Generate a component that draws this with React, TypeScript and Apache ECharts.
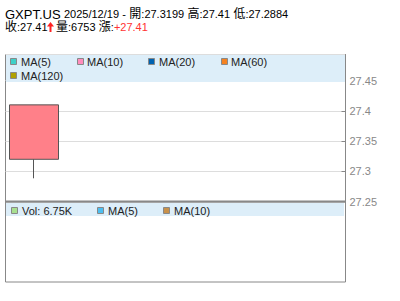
import React, { useEffect, useRef } from "react";
import * as echarts from "echarts";

const symbol = "GXPT.US";
const dateLabel = "2025/12/19";
const categories = ["2025/12/19", "", "", "", "", ""];
const openValues = [27.3199];
const closeValues = [27.41];
const lowValues = [27.2884];
const highValues = [27.41];
const volumeValues = [6753];
const changeValue = 27.41;
const priceMin = 27.25;
const priceMax = 27.4934;
const priceInterval = 0.05;
const maNames = ["MA(5)", "MA(10)", "MA(20)", "MA(60)", "MA(120)"];
const maColors = ["#3fd0c8", "#ff8cbc", "#0062b0", "#f58220", "#b0a000"];
const volNames = ["MA(5)", "MA(10)"];
const volColors = ["#4cbef0", "#c8914a"];
const volColor = "#a8e090";

const FONT = "Arial, 'Liberation Sans', 'Noto Sans CJK TC', sans-serif";

export default function App() {
  const ref = useRef<HTMLDivElement>(null);
  useEffect(() => {
    if (!ref.current) return;
    const chart = echarts.init(ref.current, undefined, { renderer: "svg" });
    const candleData = openValues.map((o, i) => [o, closeValues[i], lowValues[i], highValues[i]]);
    const vol = volumeValues[0];
    const volText = (vol / 1000).toFixed(2) + "K";

    const maPos = [
      [10, 58, 21],
      [77, 58, 87],
      [148, 58, 159],
      [221, 58, 231],
      [10, 72, 21],
    ];
    const legendEls: any[] = [];
    maNames.forEach((n, i) => {
      const [sx, sy, tx] = maPos[i];
      legendEls.push({
        type: "rect",
        shape: { x: sx + 0.5, y: sy + 0.5, width: 6, height: 6 },
        style: { fill: maColors[i], stroke: "#888", lineWidth: 1 },
        z: 101,
      });
      legendEls.push({
        type: "text",
        x: tx,
        y: sy + 4,
        style: { text: n, fill: "#222", font: `11px ${FONT}`, verticalAlign: "middle" },
        z: 101,
      });
    });
    const volPos = [
      [11, 207, 22],
      [97, 207, 108],
      [163, 207, 174],
    ];
    const volLabels = ["Vol: " + volText, ...volNames];
    const volSq = [volColor, ...volColors];
    volLabels.forEach((n, i) => {
      const [sx, sy, tx] = volPos[i];
      legendEls.push({
        type: "rect",
        shape: { x: sx + 0.5, y: sy + 0.5, width: 6, height: 6 },
        style: { fill: volSq[i], stroke: "#888", lineWidth: 1 },
        z: 101,
      });
      legendEls.push({
        type: "text",
        x: tx,
        y: sy + 4,
        style: { text: n, fill: "#222", font: `11px ${FONT}`, verticalAlign: "middle" },
        z: 101,
      });
    });

    const o = openValues[0], c = closeValues[0], l = lowValues[0], h = highValues[0];

    const richBase = {
      a: { fontSize: 13, fontFamily: FONT, fill: "#000" },
      b: { fontSize: 11, fontFamily: FONT, fill: "#000" },
      k: { fontSize: 12, fontFamily: FONT, fill: "#000" },
      r: { fontSize: 11, fontFamily: FONT, fill: "#f33" },
    };

    chart.setOption({
      animation: false,
      grid: [
        { left: 5.5, top: 54.5, width: 340, height: 147, show: true, borderColor: "#888", borderWidth: 1, backgroundColor: "transparent" },
        { left: 5.5, top: 202, width: 340, height: 80, show: true, borderColor: "#888", borderWidth: 1, backgroundColor: "transparent" },
      ],
      xAxis: [
        { type: "category", data: categories, gridIndex: 0, show: false, boundaryGap: true },
        { type: "category", data: categories, gridIndex: 1, show: false, boundaryGap: true },
      ],
      yAxis: [
        {
          type: "value",
          gridIndex: 0,
          position: "right",
          min: priceMin,
          max: priceMax,
          interval: priceInterval,
          axisLine: { show: true, lineStyle: { color: "#888" } },
          axisTick: { show: true, inside: true, length: 4, lineStyle: { color: "#888" } },
          axisLabel: {
            show: true,
            color: "#888",
            fontSize: 11,
            fontFamily: FONT,
            margin: 4,
            showMaxLabel: false,
            formatter: (v: number) => String(parseFloat(v.toFixed(2))),
          },
          splitLine: { show: true, lineStyle: { color: "#dddddd" } },
        },
        { type: "value", gridIndex: 1, show: false, min: 0, max: vol * 10 },
      ],
      series: [
        {
          type: "candlestick",
          xAxisIndex: 0,
          yAxisIndex: 0,
          data: candleData,
          barWidth: 50,
          itemStyle: {
            color: "#ff8089",
            color0: "#66cc66",
            borderColor: "#555",
            borderColor0: "#555",
            borderWidth: 1,
          },
        },
      ],
      graphic: [
        {
          type: "rect",
          shape: { x: 6, y: 55, width: 339, height: 27 },
          style: { fill: "#ddeef9" },
          z: 100,
        },
        {
          type: "rect",
          shape: { x: 6, y: 203, width: 338, height: 13 },
          style: { fill: "#ddeef9" },
          z: 100,
        },
        {
          type: "rect",
          shape: { x: 5, y: 200.5, width: 341, height: 2 },
          style: { fill: "#888" },
          z: 102,
        },
        {
          type: "text",
          x: 5,
          y: 14,
          style: {
            text: `{a|${symbol}} {b|${dateLabel}} {b|-} {k|開}{b|:${o}} {k|高}{b|:${h}} {k|低}{b|:${l}}`,
            verticalAlign: "middle",
            rich: richBase,
          },
          z: 101,
        },
        {
          type: "text",
          x: 5,
          y: 27,
          style: { text: `{k|收}{b|:${c}}`, verticalAlign: "middle", rich: richBase },
          z: 101,
        },
        {
          type: "polygon",
          shape: { points: [[50.5, 22], [47, 26.5], [54, 26.5]] },
          style: { fill: "#f22" },
          z: 101,
        },
        {
          type: "rect",
          shape: { x: 49.5, y: 26, width: 2, height: 6 },
          style: { fill: "#f22" },
          z: 101,
        },
        {
          type: "text",
          x: 56,
          y: 27,
          style: {
            text: `{k|量}{b|:${vol}} {k|漲}{b|:}{r|+${changeValue}}`,
            verticalAlign: "middle",
            rich: richBase,
          },
          z: 101,
        },
        ...legendEls,
      ],
    });
    return () => chart.dispose();
  }, []);
  return (
    <div
      ref={ref}
      style={{ position: "fixed", left: 0, top: 0, width: 400, height: 301, background: "#fff" }}
    />
  );
}
